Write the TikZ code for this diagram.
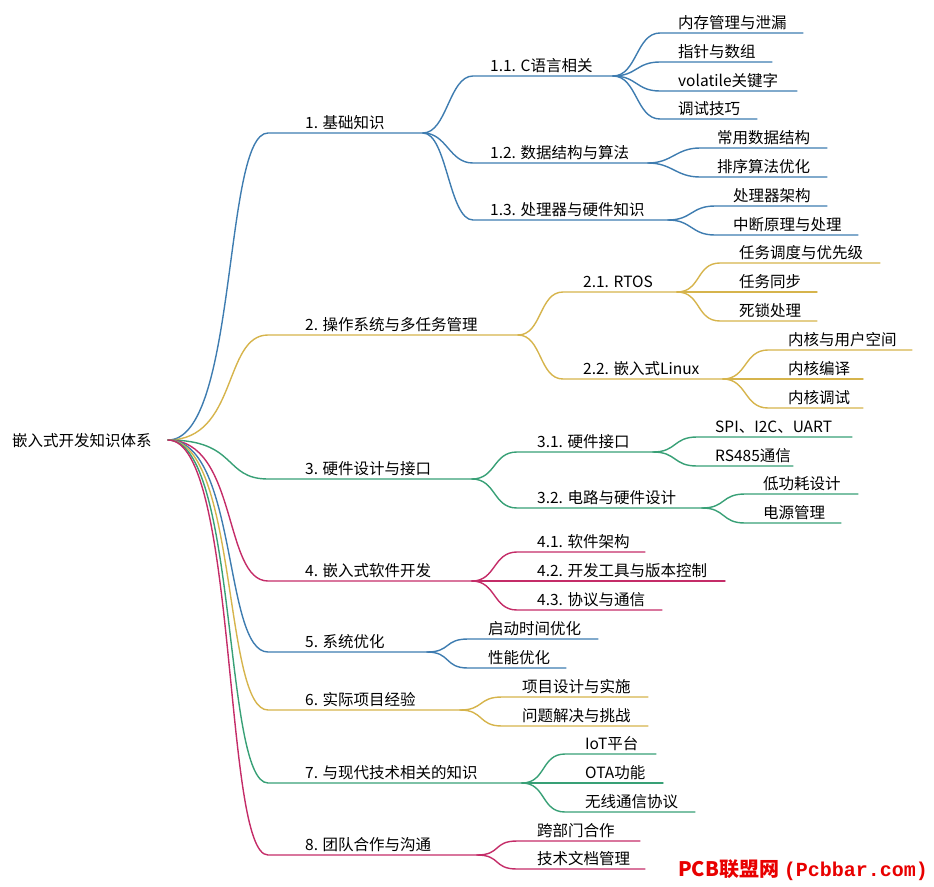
\documentclass[tikz,border=0pt]{standalone}
\usepackage{fontspec}
\setmainfont{Noto Sans CJK SC}
\newfontfamily\pcbmono{Liberation Mono}
\definecolor{mmblue}{RGB}{62,124,176}
\definecolor{mmgold}{RGB}{214,180,76}
\definecolor{mmgreen}{RGB}{56,160,118}
\definecolor{mmred}{RGB}{196,44,104}
\definecolor{pcbred}{RGB}{232,0,0}

\begin{document}
\begin{tikzpicture}[x=1pt, y=-1pt,
    % text and line styles
    topic/.style={anchor=base west, inner sep=0pt, font=\fontsize{15.5}{18}\selectfont},
    pcbmark/.style={anchor=base west, inner sep=0pt, text=pcbred, font=\fontsize{20}{22}\selectfont\bfseries},
    link/.style={line width=1.4pt, line cap=round},
    bluelink/.style={link, draw=mmblue},
    goldlink/.style={link, draw=mmgold},
    greenlink/.style={link, draw=mmgreen},
    redlink/.style={link, draw=mmred},
    trunk/.style={out=0, in=180, out distance=70pt, in distance=45pt},
    twig/.style={out=0, in=180, distance=24pt}
]
\useasboundingbox (0,0) rectangle (934,886);

% Root
\node[topic] (root) at (12,446) {嵌入式开发知识体系};
\coordinate (rootc) at (168,440);

% Main topics
\node[topic] (n1) at (305,128) {1. 基础知识};
\coordinate (n1s) at (268,133); \coordinate (n1e) at (423,133);
\node[topic] (n2) at (305,330) {2. 操作系统与多任务管理};
\coordinate (n2s) at (268,335); \coordinate (n2e) at (518,335);
\node[topic] (n3) at (305,474) {3. 硬件设计与接口};
\coordinate (n3s) at (268,479); \coordinate (n3e) at (472,479);
\node[topic] (n4) at (305,576) {4. 嵌入式软件开发};
\coordinate (n4s) at (268,581); \coordinate (n4e) at (472,581);
\node[topic] (n5) at (305,647) {5. 系统优化};
\coordinate (n5s) at (268,652); \coordinate (n5e) at (427,652);
\node[topic] (n6) at (305,705) {6. 实际项目经验};
\coordinate (n6s) at (268,710); \coordinate (n6e) at (460,710);
\node[topic] (n7) at (305,778) {7. 与现代技术相关的知识};
\coordinate (n7s) at (268,783); \coordinate (n7e) at (522,783);
\node[topic] (n8) at (305,850) {8. 团队合作与沟通};
\coordinate (n8s) at (268,855); \coordinate (n8e) at (477,855);

% Subtopics
\node[topic] (n11) at (490,71) {1.1. C语言相关};
\coordinate (n11s) at (473,76); \coordinate (n11e) at (613,76);
\node[topic] (n12) at (490,158) {1.2. 数据结构与算法};
\coordinate (n12s) at (473,163); \coordinate (n12e) at (648,163);
\node[topic] (n13) at (490,215) {1.3. 处理器与硬件知识};
\coordinate (n13s) at (473,220); \coordinate (n13e) at (668,220);
\node[topic] (n21) at (583,287) {2.1. RTOS};
\coordinate (n21s) at (563,292); \coordinate (n21e) at (677,292);
\node[topic] (n22) at (583,374) {2.2. 嵌入式Linux};
\coordinate (n22s) at (563,379); \coordinate (n22e) at (723,379);
\node[topic] (n31) at (537,447) {3.1. 硬件接口};
\coordinate (n31s) at (517,452); \coordinate (n31e) at (653,452);
\node[topic] (n32) at (537,503) {3.2. 电路与硬件设计};
\coordinate (n32s) at (517,508); \coordinate (n32e) at (702,508);
\node[topic] (n41) at (537,547) {4.1. 软件架构};
\coordinate (n41s) at (517,552); \coordinate (n41e) at (645,552);
\node[topic] (n42) at (537,576) {4.2. 开发工具与版本控制};
\coordinate (n42s) at (517,581); \coordinate (n42e) at (725,581);
\node[topic] (n43) at (537,605) {4.3. 协议与通信};
\coordinate (n43s) at (517,610); \coordinate (n43e) at (662,610);
\node[topic] (n51) at (488,634) {启动时间优化};
\coordinate (n51s) at (468,639); \coordinate (n51e) at (598,639);
\node[topic] (n52) at (488,663) {性能优化};
\coordinate (n52s) at (468,668); \coordinate (n52e) at (566,668);
\node[topic] (n61) at (522,692) {项目设计与实施};
\coordinate (n61s) at (502,697); \coordinate (n61e) at (648,697);
\node[topic] (n62) at (522,721) {问题解决与挑战};
\coordinate (n62s) at (502,726); \coordinate (n62e) at (648,726);
\node[topic] (n71) at (585,749) {IoT平台};
\coordinate (n71s) at (565,754); \coordinate (n71e) at (656,754);
\node[topic] (n72) at (585,778) {OTA功能};
\coordinate (n72s) at (565,783); \coordinate (n72e) at (663,783);
\node[topic] (n73) at (585,807) {无线通信协议};
\coordinate (n73s) at (565,812); \coordinate (n73e) at (695,812);
\node[topic] (n81) at (537,836) {跨部门合作};
\coordinate (n81s) at (517,841); \coordinate (n81e) at (640,841);
\node[topic] (n82) at (537,864) {技术文档管理};
\coordinate (n82s) at (517,869); \coordinate (n82e) at (645,869);

% Leaves
\node[topic] (n111) at (678,28) {内存管理与泄漏};
\coordinate (n111s) at (660,33); \coordinate (n111e) at (803,33);
\node[topic] (n112) at (678,57) {指针与数组};
\coordinate (n112s) at (660,62); \coordinate (n112e) at (772,62);
\node[topic] (n113) at (678,86) {volatile关键字};
\coordinate (n113s) at (660,91); \coordinate (n113e) at (797,91);
\node[topic] (n114) at (678,114) {调试技巧};
\coordinate (n114s) at (660,119); \coordinate (n114e) at (757,119);
\node[topic] (n121) at (717,143) {常用数据结构};
\coordinate (n121s) at (700,148); \coordinate (n121e) at (827,148);
\node[topic] (n122) at (717,172) {排序算法优化};
\coordinate (n122s) at (700,177); \coordinate (n122e) at (827,177);
\node[topic] (n131) at (733,201) {处理器架构};
\coordinate (n131s) at (715,206); \coordinate (n131e) at (827,206);
\node[topic] (n132) at (733,230) {中断原理与处理};
\coordinate (n132s) at (715,235); \coordinate (n132e) at (858,235);
\node[topic] (n211) at (739,258) {任务调度与优先级};
\coordinate (n211s) at (720,263); \coordinate (n211e) at (880,263);
\node[topic] (n212) at (739,287) {任务同步};
\coordinate (n212s) at (720,292); \coordinate (n212e) at (817,292);
\node[topic] (n213) at (739,316) {死锁处理};
\coordinate (n213s) at (720,321); \coordinate (n213e) at (817,321);
\node[topic] (n221) at (788,345) {内核与用户空间};
\coordinate (n221s) at (768,350); \coordinate (n221e) at (912,350);
\node[topic] (n222) at (788,374) {内核编译};
\coordinate (n222s) at (768,379); \coordinate (n222e) at (863,379);
\node[topic] (n223) at (788,403) {内核调试};
\coordinate (n223s) at (768,408); \coordinate (n223e) at (863,408);
\node[topic] (n311) at (715,432) {SPI、I2C、UART};
\coordinate (n311s) at (697,437); \coordinate (n311e) at (852,437);
\node[topic] (n312) at (715,461) {RS485通信};
\coordinate (n312s) at (697,466); \coordinate (n312e) at (793,466);
\node[topic] (n321) at (763,489) {低功耗设计};
\coordinate (n321s) at (745,494); \coordinate (n321e) at (858,494);
\node[topic] (n322) at (763,518) {电源管理};
\coordinate (n322s) at (745,523); \coordinate (n322e) at (841,523);

% Root branches
\draw[bluelink] (rootc) to[trunk] (n1s) -- (n1e);
\draw[goldlink] (rootc) to[trunk] (n2s) -- (n2e);
\draw[greenlink] (rootc) to[trunk] (n3s) -- (n3e);
\draw[redlink] (rootc) to[trunk] (n4s) -- (n4e);
\draw[bluelink] (rootc) to[trunk] (n5s) -- (n5e);
\draw[goldlink] (rootc) to[trunk] (n6s) -- (n6e);
\draw[greenlink] (rootc) to[trunk] (n7s) -- (n7e);
\draw[redlink] (rootc) to[trunk] (n8s) -- (n8e);

% Second level
\draw[bluelink] (n1e) to[twig] (n11s) -- (n11e);
\draw[bluelink] (n1e) to[twig] (n12s) -- (n12e);
\draw[bluelink] (n1e) to[twig] (n13s) -- (n13e);
\draw[goldlink] (n2e) to[twig] (n21s) -- (n21e);
\draw[goldlink] (n2e) to[twig] (n22s) -- (n22e);
\draw[greenlink] (n3e) to[twig] (n31s) -- (n31e);
\draw[greenlink] (n3e) to[twig] (n32s) -- (n32e);
\draw[redlink] (n4e) to[twig] (n41s) -- (n41e);
\draw[redlink] (n4e) to[twig] (n42s) -- (n42e);
\draw[redlink] (n4e) to[twig] (n43s) -- (n43e);
\draw[bluelink] (n5e) to[twig] (n51s) -- (n51e);
\draw[bluelink] (n5e) to[twig] (n52s) -- (n52e);
\draw[goldlink] (n6e) to[twig] (n61s) -- (n61e);
\draw[goldlink] (n6e) to[twig] (n62s) -- (n62e);
\draw[greenlink] (n7e) to[twig] (n71s) -- (n71e);
\draw[greenlink] (n7e) to[twig] (n72s) -- (n72e);
\draw[greenlink] (n7e) to[twig] (n73s) -- (n73e);
\draw[redlink] (n8e) to[twig] (n81s) -- (n81e);
\draw[redlink] (n8e) to[twig] (n82s) -- (n82e);

% Third level
\draw[bluelink] (n11e) to[twig] (n111s) -- (n111e);
\draw[bluelink] (n11e) to[twig] (n112s) -- (n112e);
\draw[bluelink] (n11e) to[twig] (n113s) -- (n113e);
\draw[bluelink] (n11e) to[twig] (n114s) -- (n114e);
\draw[bluelink] (n12e) to[twig] (n121s) -- (n121e);
\draw[bluelink] (n12e) to[twig] (n122s) -- (n122e);
\draw[bluelink] (n13e) to[twig] (n131s) -- (n131e);
\draw[bluelink] (n13e) to[twig] (n132s) -- (n132e);
\draw[goldlink] (n21e) to[twig] (n211s) -- (n211e);
\draw[goldlink] (n21e) to[twig] (n212s) -- (n212e);
\draw[goldlink] (n21e) to[twig] (n213s) -- (n213e);
\draw[goldlink] (n22e) to[twig] (n221s) -- (n221e);
\draw[goldlink] (n22e) to[twig] (n222s) -- (n222e);
\draw[goldlink] (n22e) to[twig] (n223s) -- (n223e);
\draw[greenlink] (n31e) to[twig] (n311s) -- (n311e);
\draw[greenlink] (n31e) to[twig] (n312s) -- (n312e);
\draw[greenlink] (n32e) to[twig] (n321s) -- (n321e);
\draw[greenlink] (n32e) to[twig] (n322s) -- (n322e);

% Watermark
\node[pcbmark] (pcb) at (678,876) {PCB联盟网 {\pcbmono(Pcbbar.com)}};

\end{tikzpicture}
\end{document}
